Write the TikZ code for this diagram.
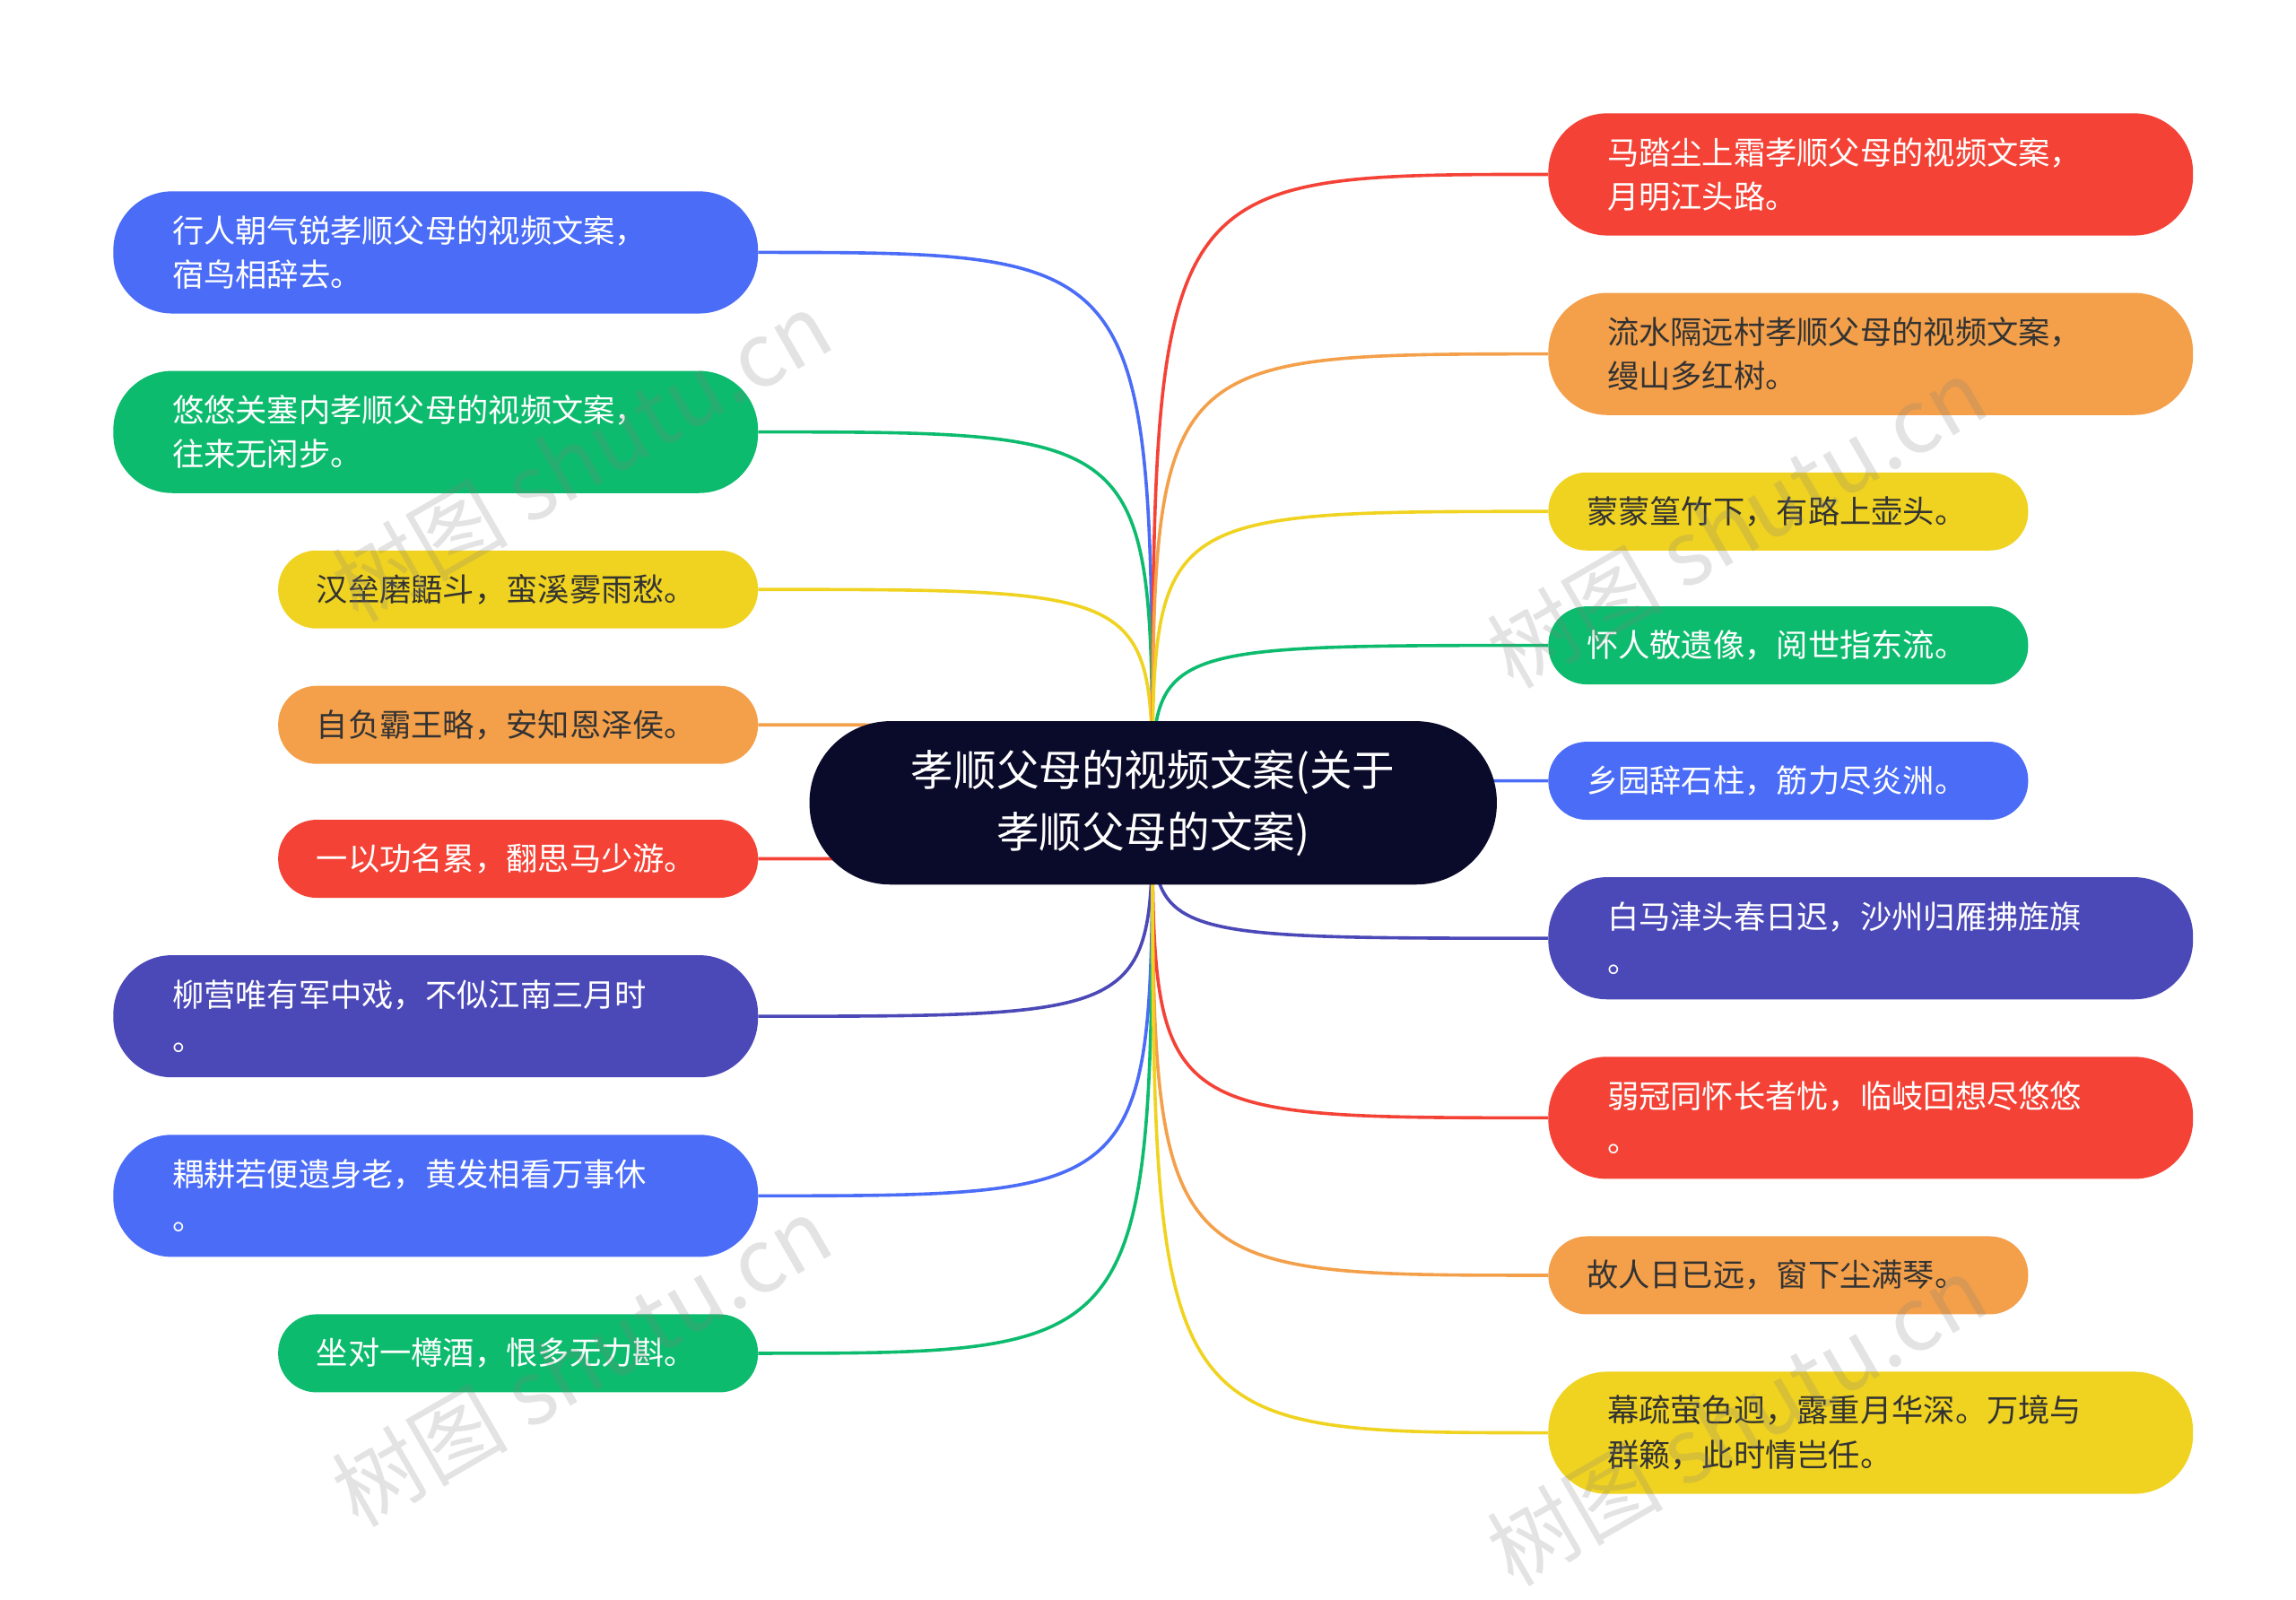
\documentclass[tikz,border=0pt]{standalone}
\usepackage{fontspec}
\setmainfont{Noto Sans CJK SC}
\definecolor{cblue}{HTML}{4A6CF7}
\definecolor{cgreen}{HTML}{0DBB6E}
\definecolor{cyellow}{HTML}{F0D320}
\definecolor{corange}{HTML}{F4A04A}
\definecolor{cred}{HTML}{F44336}
\definecolor{cpurple}{HTML}{4B48B8}
\definecolor{cnavy}{HTML}{0A0A2A}
\definecolor{cdark}{HTML}{333333}
\tikzset{
 bx/.style={rectangle, rounded corners=26pt, inner xsep=0pt, inner ysep=0pt, align=left,
   font=\fontsize{21.5}{30}\selectfont},
 wide/.style={bx, minimum width=438pt, minimum height=83pt, text width=358pt, rounded corners=40pt},
 nar/.style={bx, minimum width=326pt, minimum height=53pt, text width=274pt},
 ln/.style={line width=2.2pt},
 wm/.style={text=gray, opacity=0.22, rotate=30, font=\fontsize{60}{60}\selectfont}
}
\begin{document}
\begin{tikzpicture}[x=1pt,y=-1pt]
\useasboundingbox (0,0) rectangle (1560,1087);
\fill[white] (0,0) rectangle (1560,1087);
% left nodes
\node[wide, fill=cblue, text=white] (l1) at (296,171.5) {行人朝气锐孝顺父母的视频文案，\\宿鸟相辞去。};
\node[wide, fill=cgreen, text=white] (l2) at (296,293.5) {悠悠关塞内孝顺父母的视频文案，\\往来无闲步。};
\node[nar, fill=cyellow, text=cdark] (l3) at (352,400.5) {汉垒磨鼯斗，蛮溪雾雨愁。};
\node[nar, fill=corange, text=cdark] (l4) at (352,492.5) {自负霸王略，安知恩泽侯。};
\node[nar, fill=cred, text=white] (l5) at (352,583.5) {一以功名累，翻思马少游。};
\node[wide, fill=cpurple, text=white] (l6) at (296,690.5) {柳营唯有军中戏，不似江南三月时\\。};
\node[wide, fill=cblue, text=white] (l7) at (296,812.5) {耦耕若便遗身老，黄发相看万事休\\。};
\node[nar, fill=cgreen, text=white] (l8) at (352,919.5) {坐对一樽酒，恨多无力斟。};
% right nodes
\node[wide, fill=cred, text=white] (r1) at (1271,118.5) {马踏尘上霜孝顺父母的视频文案，\\月明江头路。};
\node[wide, fill=corange, text=cdark] (r2) at (1271,240.5) {流水隔远村孝顺父母的视频文案，\\缦山多红树。};
\node[nar, fill=cyellow, text=cdark] (r3) at (1215,347.5) {蒙蒙篁竹下，有路上壶头。};
\node[nar, fill=cgreen, text=white] (r4) at (1215,438.5) {怀人敬遗像，阅世指东流。};
\node[nar, fill=cblue, text=white] (r5) at (1215,530.5) {乡园辞石柱，筋力尽炎洲。};
\node[wide, fill=cpurple, text=white] (r6) at (1271,637.5) {白马津头春日迟，沙州归雁拂旌旗\\。};
\node[wide, fill=cred, text=white] (r7) at (1271,759.5) {弱冠同怀长者忧，临岐回想尽悠悠\\。};
\node[nar, fill=corange, text=cdark] (r8) at (1215,866.5) {故人日已远，窗下尘满琴。};
\node[wide, fill=cyellow, text=cdark] (r9) at (1271,973.5) {幕疏萤色迥，露重月华深。万境与\\群籁，此时情岂任。};
% connectors
\coordinate (c0) at (783,545);
\foreach \n/\c in {l1/cblue,l2/cgreen,l3/cyellow,l4/corange,l5/cred,l6/cpurple,l7/cblue,l8/cgreen}{
  \draw[ln,\c] (c0) .. controls (c0 |- \n.east) .. (\n.east);
}
\foreach \n/\c in {r1/cred,r2/corange,r3/cyellow,r4/cgreen,r5/cblue,r6/cpurple,r7/cred,r8/corange,r9/cyellow}{
  \draw[ln,\c] (c0) .. controls (c0 |- \n.west) .. (\n.west);
}
% center
\node[rectangle, rounded corners=55pt, fill=cnavy, text=white, minimum width=467pt, minimum height=111pt, align=center, font=\fontsize{29}{42}\selectfont] (c) at (783.5,545.5) {孝顺父母的视频文案(关于\\孝顺父母的文案)};
% watermarks
\node[wm] (w1) at (395,310) {树图 shutu.cn};
\node[wm] (w2) at (395,925) {树图 shutu.cn};
\node[wm] (w3) at (1180,355) {树图 shutu.cn};
\node[wm] (w4) at (1180,965) {树图 shutu.cn};
\end{tikzpicture}
\end{document}
